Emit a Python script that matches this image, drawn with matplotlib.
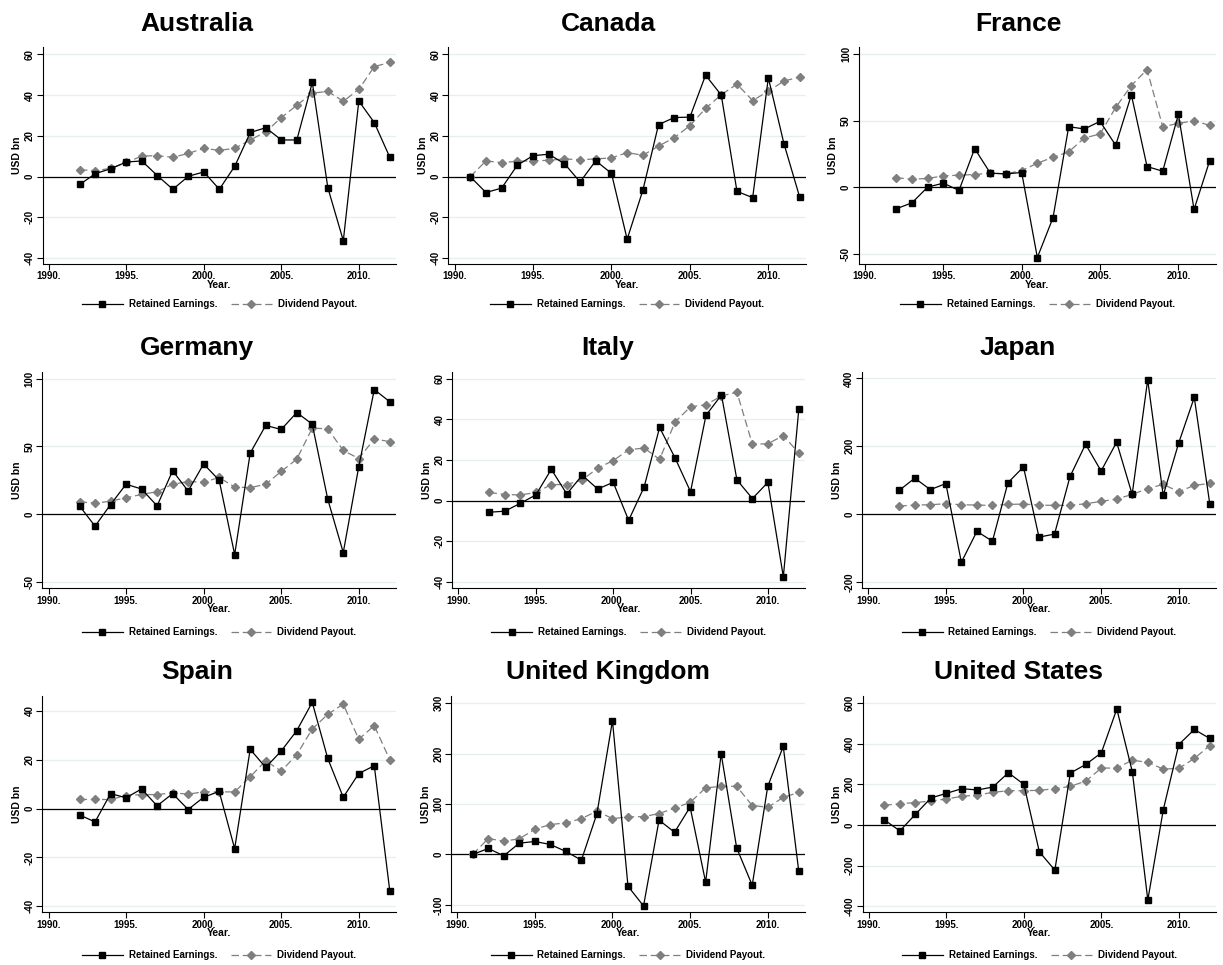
import matplotlib
matplotlib.use("Agg")
import matplotlib.pyplot as plt
from matplotlib.lines import Line2D

plt.rcParams["font.family"] = ["Liberation Sans", "DejaVu Sans"]
plt.rcParams["font.weight"] = "bold"

# --- data (USD bn) ---
years_92 = list(range(1992, 2013))
years_91 = list(range(1991, 2013))

aus_re = [-3.8, 1.5, 3.9, 7.2, 7.7, 0.5, -6.2, 0.2, 2.3, -6.2, 5.2, 21.7, 24.0,
          18.0, 18.0, 46.2, -5.4, -31.4, 37.1, 26.5, 9.5]
aus_dp = [3.4, 2.9, 4.1, 7.0, 10.1, 10.3, 9.5, 11.4, 13.9, 12.9, 13.9, 18.0, 22.0,
          29.0, 35.0, 41.0, 41.8, 37.0, 42.8, 54.0, 56.0]

can_re = [0.0, -7.8, -5.6, 5.6, 10.3, 11.0, 6.4, -2.6, 7.8, 1.6, -30.7, -6.7, 25.5,
          29.0, 29.2, 49.8, 40.0, -7.2, -10.3, 48.5, 16.0, -10.1]
can_dp = [0.0, 7.7, 6.9, 7.5, 7.8, 8.0, 8.7, 8.3, 8.7, 9.2, 11.8, 10.5, 15.0,
          19.1, 25.0, 33.5, 40.2, 45.4, 37.3, 42.0, 46.9, 48.9]

fra_re = [-16.3, -11.8, 0.0, 3.0, -2.5, 29.0, 10.5, 10.0, 11.0, -53.0, -23.0, 45.5,
          43.8, 49.5, 31.5, 69.5, 15.5, 12.0, 54.8, -16.8, 20.0]
fra_dp = [7.0, 6.0, 6.5, 8.5, 9.0, 9.5, 10.5, 10.0, 12.5, 18.0, 22.5, 26.5, 37.0,
          40.0, 60.0, 76.5, 88.5, 45.5, 48.0, 50.0, 46.5]

ger_re = [6.0, -9.0, 7.0, 22.0, 18.5, 6.0, 32.0, 17.0, 37.0, 25.0, -30.0, 45.0, 65.5,
          62.5, 75.0, 66.5, 11.0, -28.5, 35.0, 92.0, 83.0]
ger_dp = [9.0, 8.0, 9.5, 12.0, 14.5, 16.5, 22.0, 24.0, 23.5, 27.0, 20.0, 19.5, 22.0,
          31.5, 40.5, 63.5, 63.0, 47.0, 41.0, 55.5, 53.5]

ita_re = [-5.7, -5.2, -1.3, 2.8, 15.4, 3.3, 12.5, 5.7, 9.0, -9.7, 6.7, 36.0, 21.0,
          4.4, 42.0, 52.0, 10.2, 1.0, 9.0, -37.5, 45.0]
ita_dp = [4.0, 3.0, 2.8, 4.0, 7.9, 7.9, 10.2, 16.0, 19.7, 25.0, 25.9, 20.3, 38.7,
          46.2, 47.2, 51.5, 53.4, 27.7, 28.0, 32.0, 23.4]

jpn_re = [70, 106, 72, 90, -142, -51, -80, 92.5, 139, -68, -59, 111, 206, 127, 212,
          58, 396, 55, 210, 344, 30]
jpn_dp = [23.6, 26.6, 27.6, 30.5, 27.6, 26.6, 25.6, 28.5, 29.5, 26.6, 25.6, 25.6,
          30.5, 37.4, 44.3, 58.0, 75.0, 87.6, 66.0, 84.6, 90.5]

esp_re = [-2.6, -5.5, 6.1, 4.4, 8.0, 1.1, 6.1, -0.4, 4.6, 7.0, -16.4, 24.2, 16.8,
          23.5, 31.8, 43.4, 20.5, 4.6, 14.3, 17.5, -33.7]
esp_dp = [3.7, 3.7, 3.7, 5.3, 5.7, 5.7, 6.4, 5.9, 6.8, 6.8, 6.8, 13.0, 19.5, 15.3,
          22.0, 32.5, 38.5, 42.7, 28.3, 33.9, 19.9]

gbr_re = [0, 11.9, -2.6, 22.4, 25.7, 19.8, 5.9, -11.2, 81, 265, -63, -102, 68, 44,
          94, -55, 199.6, 13, -61, 135, 214, -33.6]
gbr_dp = [0, 31.6, 26.4, 31, 50, 59.3, 62.6, 71, 86, 71, 74.4, 75, 81, 92, 103, 132,
          135, 135, 97, 93.5, 113, 123]

usa_re = [24.6, -29.5, 52, 132.6, 155.5, 178.5, 172, 186.6, 257, 199.7, -132.6,
          -222.7, 255.4, 298, 355, 571, 262, -370, 75, 396, 470, 425.7]
usa_dp = [96.6, 104.8, 109.7, 117.9, 127.7, 140.8, 147.3, 160.4, 168.6, 168.6, 170.3,
          178.5, 190, 216, 280, 280, 319, 307.8, 275, 278.3, 327.4, 391]

countries = ["Australia", "Canada", "France", "Germany", "Italy", "Japan",
             "Spain", "United Kingdom", "United States"]
years = [years_92, years_91, years_92, years_92, years_92, years_92,
         years_92, years_91, years_91]
retained = [aus_re, can_re, fra_re, ger_re, ita_re, jpn_re, esp_re, gbr_re, usa_re]
dividend = [aus_dp, can_dp, fra_dp, ger_dp, ita_dp, jpn_dp, esp_dp, gbr_dp, usa_dp]
yticks = [range(-40, 61, 20), range(-40, 61, 20), range(-50, 101, 50),
          range(-50, 101, 50), range(-40, 61, 20), range(-200, 401, 200),
          range(-40, 41, 20), range(-100, 301, 100), range(-400, 601, 200)]
ylims = [(-42.6, 63.6), (-42.6, 63.6), (-57.5, 105.5), (-54.7, 105), (-43, 63.3),
         (-218, 419), (-42.3, 46), (-114, 314), (-429, 635)]
xticks = [1990, 1995, 2000, 2005, 2010]

# --- layout in pixels ---
W, H = 1223, 965
lefts = [42.7, 448.3, 858.7, 42.3, 452.3, 862, 42.3, 451, 862.7]
rights = [396, 806, 1216, 396, 805, 1216, 396, 805, 1216]
row_top = [47, 372, 696]
row_bot = [263.5, 588, 912]
title_x = [197, 608, 1018]
title_y = [24, 348, 672]
legend_y = [304, 632, 955]

fig = plt.figure(figsize=(W / 100, H / 100), dpi=100)
fig.patch.set_facecolor("white")

grid_col = "#e6eff0"
dp_col = "#7f7f7f"
ms_sq, ms_di = 4.4, 4.2

for i, name in enumerate(countries):
    r, c = divmod(i, 3)
    l, rt = lefts[i], rights[i]
    t, b = row_top[r], row_bot[r]
    ax = fig.add_axes([l / W, 1 - b / H, (rt - l) / W, (b - t) / H])

    ax.plot(years[i], retained[i], color="black", lw=0.9, marker="s", ms=ms_sq,
            mfc="black", mec="black", zorder=4)
    ax.plot(years[i], dividend[i], color=dp_col, lw=0.9, ls=(0, (6, 3)),
            marker="D", ms=ms_di, mfc=dp_col, mec=dp_col, zorder=3)
    ax.axhline(0, color="black", lw=0.9, zorder=2)

    ax.set_xlim(1989.6, 2012.4)
    ax.set_ylim(*ylims[i])
    ax.set_xticks(xticks)
    ax.set_xticklabels([f"{x}." for x in xticks], fontsize=7, fontweight="bold")
    yt = list(yticks[i])
    ax.set_yticks(yt)
    ax.set_yticklabels([str(v) for v in yt], fontsize=7, fontweight="bold",
                       rotation=90, va="center")
    ax.yaxis.grid(True, color=grid_col, lw=0.9, zorder=0)
    ax.set_axisbelow(True)
    ax.tick_params(direction="out", length=4, width=0.8, pad=1.5)
    for s in ("top", "right"):
        ax.spines[s].set_visible(False)
    for s in ("left", "bottom"):
        ax.spines[s].set_linewidth(0.8)
    ax.set_xlabel("Year.", fontsize=7.5, fontweight="bold", labelpad=-1)
    ax.set_ylabel("USD bn", fontsize=7.5, fontweight="bold", labelpad=2)

    fig.text(title_x[c] / W, 1 - title_y[r] / H, name, ha="center", va="center",
             fontsize=19, fontweight="bold")

    handles = [
        Line2D([], [], color="black", lw=0.9, marker="s", ms=ms_sq),
        Line2D([], [], color=dp_col, lw=0.9, ls=(0, (6, 3)), marker="D", ms=ms_di),
    ]
    fig.legend(handles, ["Retained Earnings.", "Dividend Payout."], ncol=2,
               loc="center", bbox_to_anchor=((l + rt) / 2 / W, 1 - legend_y[r] / H),
               frameon=False, handlelength=4.2, columnspacing=1.4,
               handletextpad=0.6, numpoints=1, prop={"weight": "bold", "size": 7})

fig.savefig("out.png", dpi=100, facecolor="white")
